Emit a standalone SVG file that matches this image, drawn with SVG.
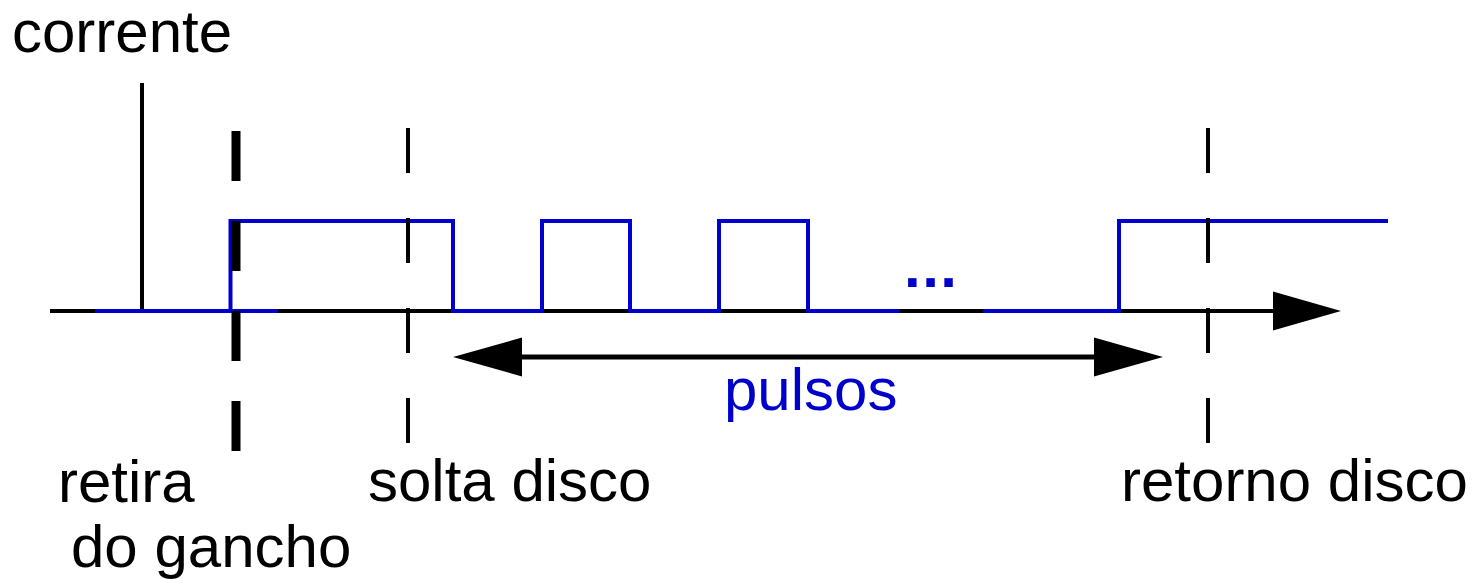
<svg xmlns="http://www.w3.org/2000/svg" width="1476" height="579" viewBox="0 0 1476 579">
  <style>
    .lbl { font-family: "Liberation Sans", Arial, sans-serif; font-size: 60px; fill: #000; }
    .blue { fill: #0000cc; }
    .axis { stroke: #000; stroke-width: 4; fill: none; }
    .wave { stroke: #0000cc; stroke-width: 4; fill: none; stroke-linejoin: miter; }
    .mark { stroke: #000; stroke-width: 4; fill: none; stroke-dasharray: 45 45; }
    .mark-thick { stroke: #000; stroke-width: 9; fill: none; stroke-dasharray: 50 40; }
    .head { fill: #000; }
  </style>

  <!-- axes -->
  <g id="axes">
    <line class="axis" x1="142" y1="83" x2="142" y2="311"/>
    <line class="axis" x1="50" y1="311" x2="1280" y2="311"/>
    <polygon class="head" points="1273,291.5 1341,311 1273,330.5"/>
  </g>

  <!-- current waveform -->
  <g id="waveform">
    <polyline class="wave" points="95,311 278,311"/>
    <polyline class="wave" points="230.5,311 230.5,221 453,221 453,311 542,311 542,221 630,221 630,311 719,311 719,221 808,221 808,311 899,311"/>
    <polyline class="wave" points="983,311 1119,311 1119,221 1388,221"/>
    <text class="lbl blue" x="904" y="287" font-weight="bold" font-size="70" letter-spacing="1.5">...</text>
  </g>

  <!-- event markers -->
  <g id="marker-gancho">
    <line class="mark-thick" x1="236" y1="131" x2="236" y2="451"/>
  </g>
  <g id="marker-solta">
    <line class="mark" x1="408" y1="128" x2="408" y2="443"/>
  </g>
  <g id="marker-retorno">
    <line class="mark" x1="1208" y1="128" x2="1208" y2="443"/>
  </g>

  <!-- pulse span connector -->
  <g id="connectors">
    <line stroke="#000" stroke-width="5" x1="515" y1="357" x2="1100" y2="357"/>
    <polygon class="head" points="522,337.5 453,357 522,376.5"/>
    <polygon class="head" points="1094,337.5 1163,357 1094,376.5"/>
  </g>

  <!-- labels -->
  <g id="labels">
    <text class="lbl" x="12" y="52">corrente</text>
    <text class="lbl" x="58" y="502">retira</text>
    <text class="lbl" x="71" y="567">do gancho</text>
    <text class="lbl" x="368" y="501">solta disco</text>
    <text class="lbl" x="1121" y="501">retorno disco</text>
    <text class="lbl blue" x="724" y="410">pulsos</text>
  </g>
</svg>
